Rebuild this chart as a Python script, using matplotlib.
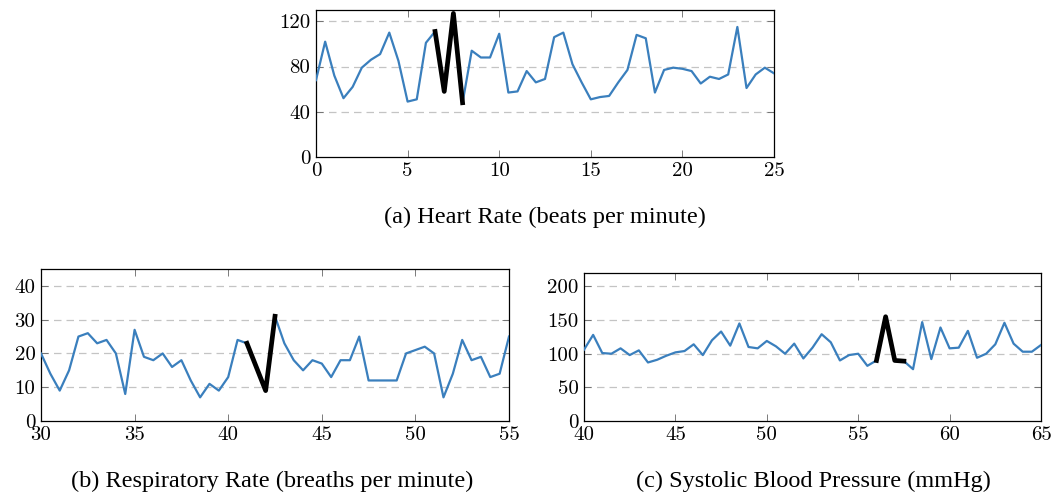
import numpy as np
import matplotlib.pyplot as plt

# heart rate (beats per minute), sampled every 0.5
hr_x = np.arange(0, 25.01, 0.5)
hr_vals = [68, 102, 72, 52, 62, 79, 86, 91, 110, 85,
           49, 51, 101, 111, 58, 127, 48, 94, 88, 88,
           109, 57, 58, 76, 66, 69, 106, 110, 82, 66,
           51, 53, 54, 66, 77, 108, 105, 57, 77, 79,
           78, 76, 65, 71, 69, 73, 115, 61, 73, 79, 74]
hr_anom = (6.5, 8.0)

# respiratory rate (breaths per minute)
rr_x = np.arange(30, 55.01, 0.5)
rr_vals = [20, 14, 9, 15, 25, 26, 23, 24, 20, 8,
           27, 19, 18, 20, 16, 18, 12, 7, 11, 9,
           13, 24, 23, 16, 9, 31, 23, 18, 15, 18,
           17, 13, 18, 18, 25, 12, 12, 12, 12, 20,
           21, 22, 20, 7, 14, 24, 18, 19, 13, 14, 25]
rr_anom = (41.0, 42.5)

# systolic blood pressure (mmHg)
bp_x = np.arange(40, 65.01, 0.5)
bp_vals = [106, 128, 101, 100, 108, 98, 105, 87, 91, 97,
           102, 104, 114, 98, 120, 133, 112, 145, 110, 108,
           119, 111, 100, 115, 93, 109, 129, 117, 90, 98,
           100, 82, 90, 155, 90, 89, 77, 147, 92, 139,
           108, 109, 134, 94, 100, 114, 146, 115, 103, 103, 113]
bp_anom = (56.0, 57.5)

captions = ['(a) Heart Rate (beats per minute)',
            '(b) Respiratory Rate (breaths per minute)',
            '(c) Systolic Blood Pressure (mmHg)']

blue = '#3a7fbd'
W, H = 1054, 498

fig = plt.figure(figsize=(W / 100, H / 100), dpi=100)


def px_axes(l, t, r, b):
    return fig.add_axes([l / W, 1 - b / H, (r - l) / W, (b - t) / H])


def draw(ax, x, y, anom, xlim, ylim, yticks, xticks):
    x = np.asarray(x)
    y = np.asarray(y)
    ax.plot(x, y, color=blue, lw=1.6, zorder=3)
    m = (x >= anom[0] - 1e-9) & (x <= anom[1] + 1e-9)
    ax.plot(x[m], y[m], color='black', lw=3.4, zorder=4)
    ax.set_xlim(*xlim)
    ax.set_ylim(*ylim)
    ax.set_yticks(yticks)
    ax.set_xticks(xticks)
    for yt in yticks[1:]:
        ax.axhline(yt, color='#c4c4c4', lw=0.9, ls=(0, (6, 4)), zorder=1)
    ax.tick_params(direction='in', top=True, right=True, length=5,
                   width=0.6, color='#666666', labelsize=15, pad=4)
    for lab in ax.get_xticklabels() + ax.get_yticklabels():
        lab.set_fontfamily('cmr10')
    for s in ax.spines.values():
        s.set_linewidth(0.9)


ax1 = px_axes(316, 10, 774, 157)
draw(ax1, hr_x, hr_vals, hr_anom, (0, 25), (0, 130), [0, 40, 80, 120], [0, 5, 10, 15, 20, 25])

ax2 = px_axes(41, 269, 509, 421)
draw(ax2, rr_x, rr_vals, rr_anom, (30, 55), (0, 45), [0, 10, 20, 30, 40], [30, 35, 40, 45, 50, 55])

ax3 = px_axes(584, 273, 1041, 421)
draw(ax3, bp_x, bp_vals, bp_anom, (40, 65), (0, 220), [0, 50, 100, 150, 200], [40, 45, 50, 55, 60, 65])

fig.text(545 / W, 1 - 217 / H, captions[0], ha='center', va='center',
         fontsize=17.5, family='Liberation Serif')
fig.text(272 / W, 1 - 481 / H, captions[1], ha='center', va='center',
         fontsize=17.5, family='Liberation Serif')
fig.text(813 / W, 1 - 481 / H, captions[2], ha='center', va='center',
         fontsize=17.5, family='Liberation Serif')

fig.savefig('out.png', dpi=100)
